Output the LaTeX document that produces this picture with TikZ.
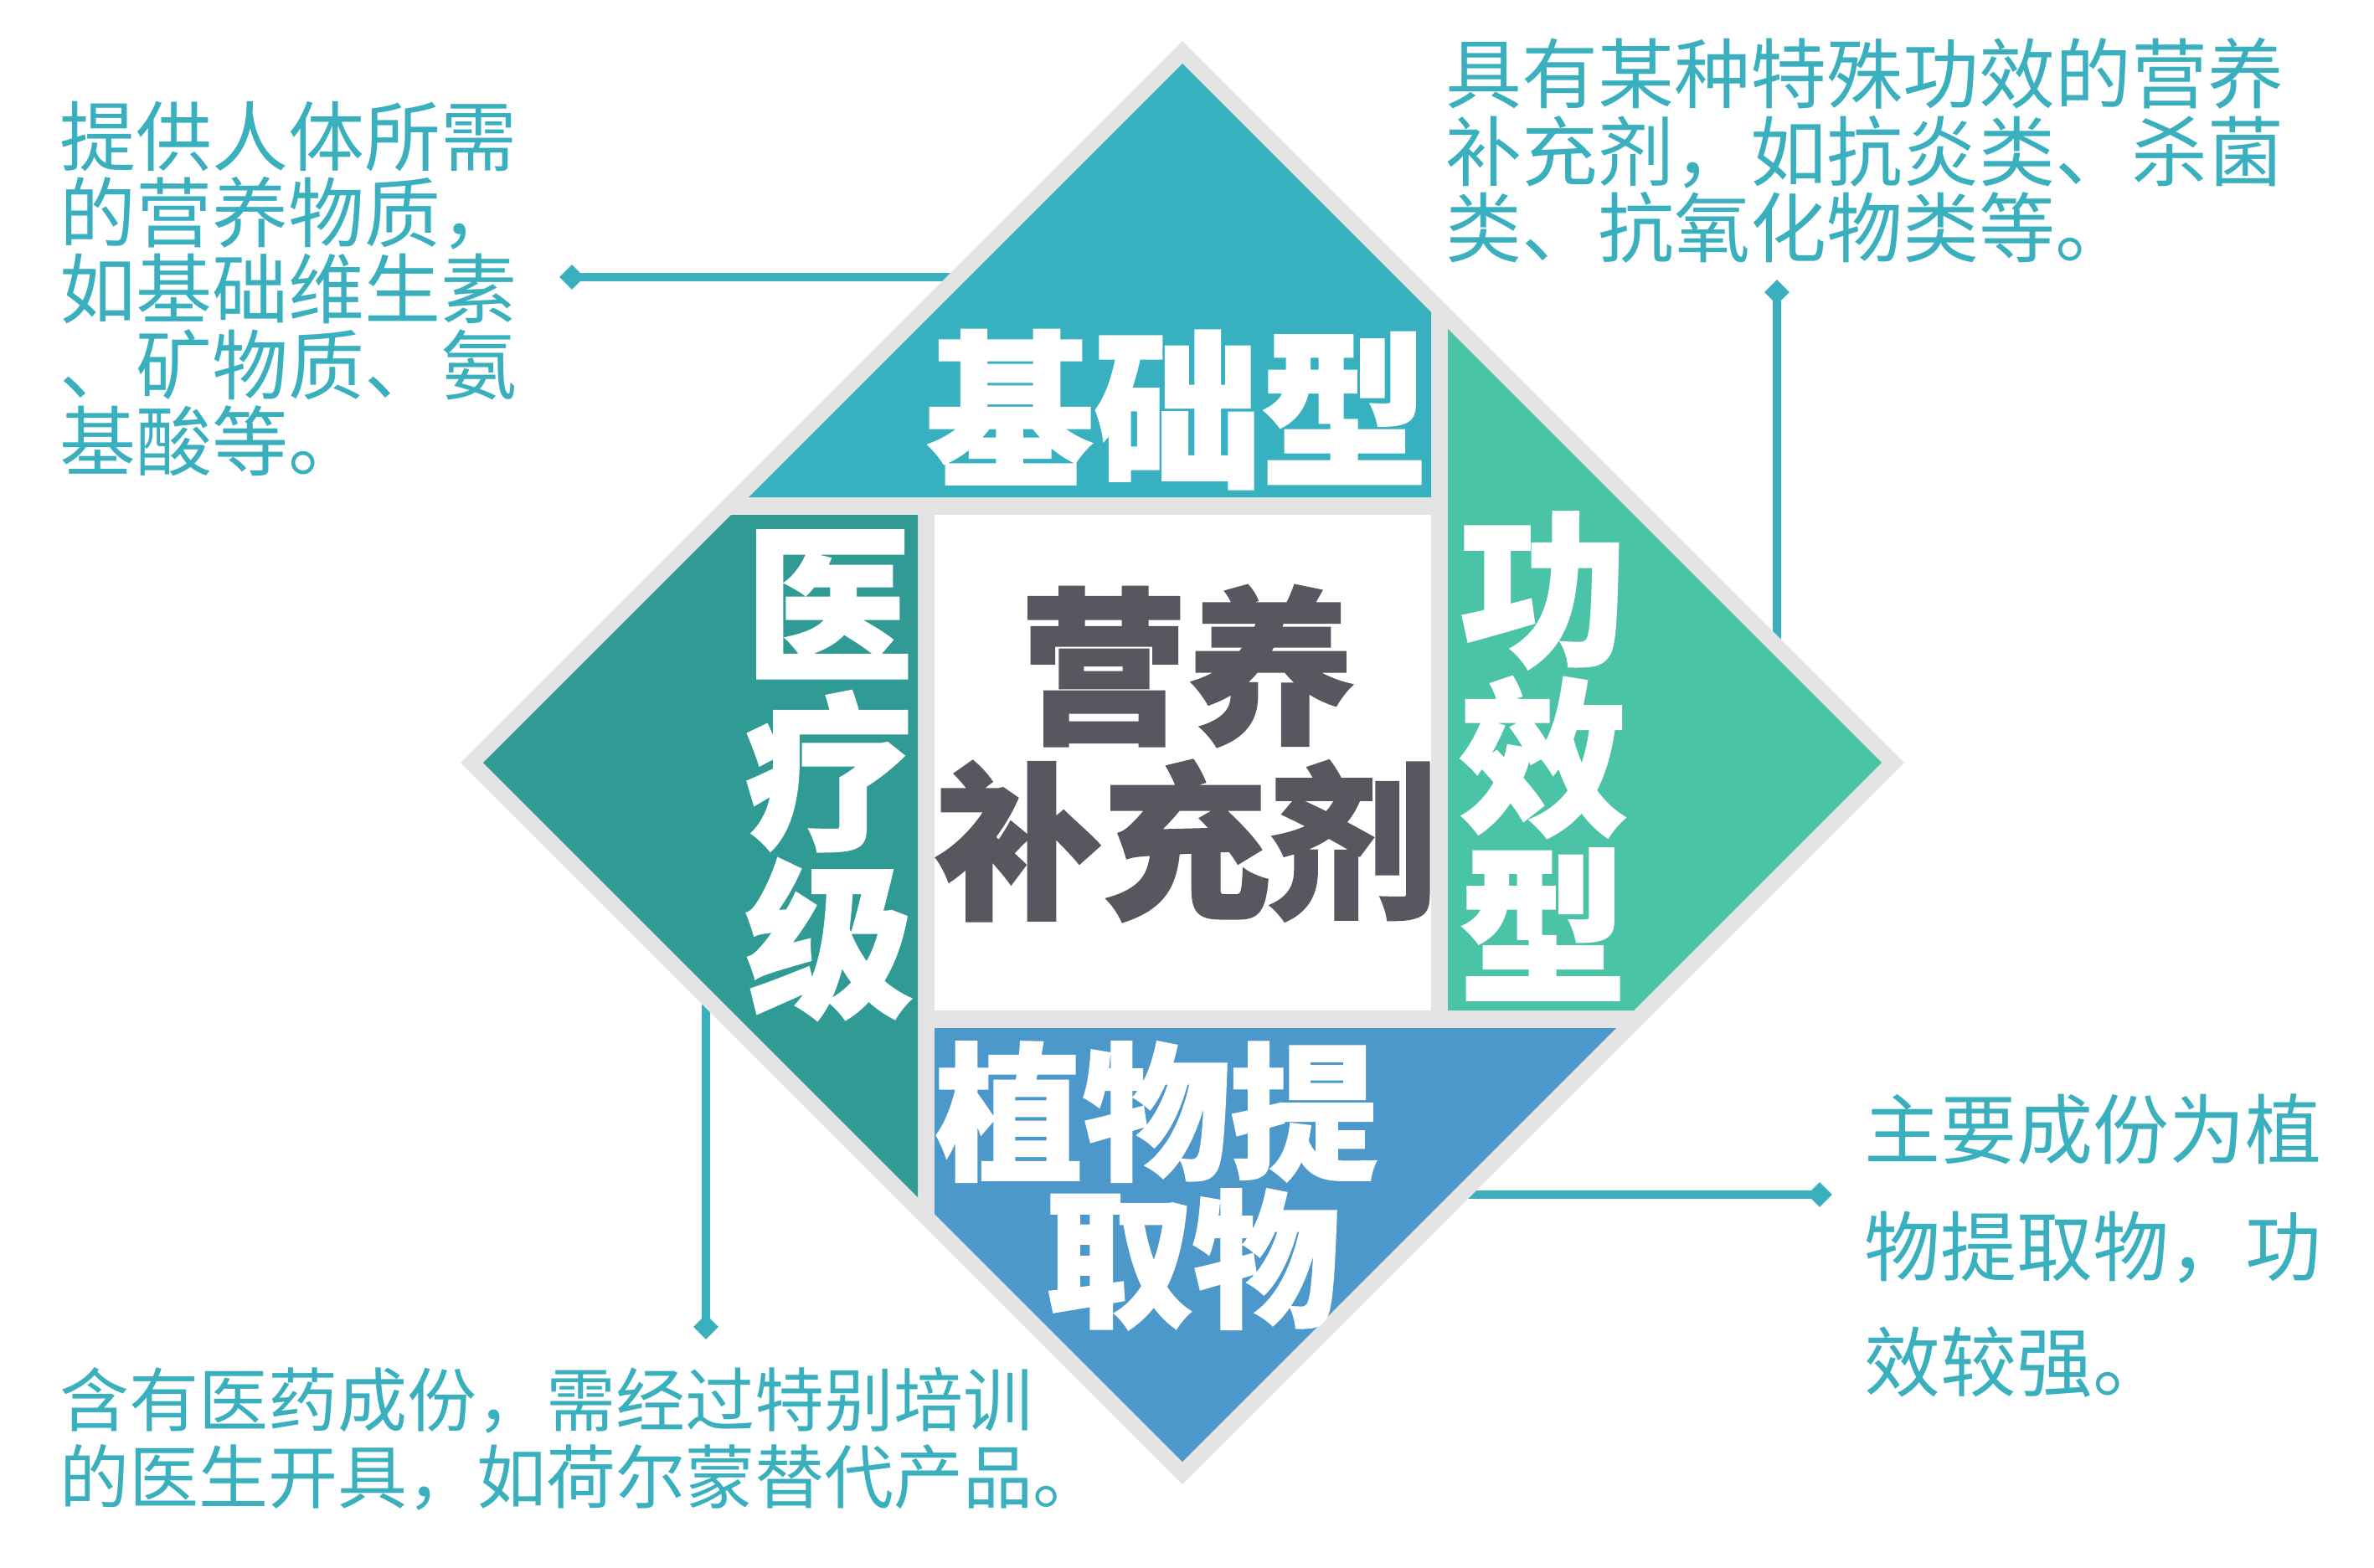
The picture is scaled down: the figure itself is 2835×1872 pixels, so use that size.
\documentclass[tikz,border=0pt]{standalone}
\usepackage{fontspec}
\newfontfamily\cjk{Noto Sans CJK SC}
\newfontfamily\cjkheavy{Noto Sans CJK SC}[BoldFeatures={FakeBold=1.5}]
\usetikzlibrary{shapes.geometric}
\definecolor{cTop}{HTML}{37B0C0}
\definecolor{cLeft}{HTML}{2F9B94}
\definecolor{cGreen}{HTML}{4BC3A7}
\definecolor{cBlue}{HTML}{4C98CB}
\definecolor{cGray}{HTML}{E4E4E4}
\definecolor{cText}{HTML}{3AB0BF}
\definecolor{cDark}{HTML}{56575F}
\tikzset{
  desc/.style={text=cText, font=\cjk\fontsize{91}{91}\selectfont, anchor=base west, inner sep=0pt},
  descsm/.style={desc, font=\cjk\fontsize{83}{83}\selectfont},
  biglabel/.style={text=white, font=\cjkheavy\bfseries\fontsize{200}{201}\selectfont, inner sep=0pt, align=center},
  midlabel/.style={biglabel, font=\cjkheavy\bfseries\fontsize{176}{176}\selectfont},
  corelabel/.style={biglabel, text=cDark},
  marker/.style={diamond, fill=cText, draw=none, inner sep=0pt, minimum width=30pt, minimum height=30pt},
  conn/.style={draw=cText, line width=10pt}
}
\begin{document}
\begin{tikzpicture}[x=1pt,y=-1pt]
\useasboundingbox (0,0) rectangle (2835,1872);
\fill[white] (0,0) rectangle (2835,1872);
% connectors (drawn first, diamond covers their inner ends)
\node[marker] (m1) at (683,331) {};
\coordinate (e1) at (1150,331);
\node[marker] (m2) at (2122,349) {};
\coordinate (e2) at (2122,780);
\node[marker] (m3) at (843,1585) {};
\coordinate (e3) at (843,1185);
\node[marker] (m4) at (2173,1427) {};
\coordinate (e4) at (1740,1427);
\draw[conn] (m1.center) -- (e1);
\draw[conn] (m2.center) -- (e2);
\draw[conn] (m3.center) -- (e3);
\draw[conn] (m4.center) -- (e4);
% outer gray diamond
\fill[cGray] (1412,49) -- (2274,911) -- (1412,1773) -- (550,911) -- cycle;
% pinwheel pieces
\fill[cTop] (1412,76) -- (1709,373) -- (1709,594) -- (894,594) -- cycle;
\fill[cGreen] (1729,393) -- (2247,911) -- (1951,1207) -- (1729,1207) -- cycle;
\fill[cBlue] (1116,1228) -- (1930,1228) -- (1412,1746) -- (1116,1450) -- cycle;
\fill[cLeft] (873,615) -- (1096,615) -- (1096,1430) -- (577,911) -- cycle;
\fill[white] (1116,615) rectangle (1709,1207);
% big labels
\node[biglabel, anchor=base] (jc) at (1406,565) {基础型};
\node[biglabel, anchor=center] (gx) at (1843,903) {功\\效\\型};
\node[biglabel, anchor=center] (yl) at (990,926) {医\\疗\\级};
\node[midlabel, anchor=base] (zw1) at (1381,1395) {植物提};
\node[midlabel, anchor=base] (zw2) at (1424,1571) {取物};
\node[corelabel, anchor=base] (core1) at (1418,872) {营养};
\node[corelabel, anchor=base] (core2) at (1416,1081) {补充剂};
% descriptions
\node[desc] (tl1) at (71,197) {提供人体所需};
\node[desc] (tl2) at (71,288) {的营养物质，};
\node[desc] (tl3) at (71,379) {如基础维生素};
\node[desc] (tl4) at (71,470) {、矿物质、氨};
\node[desc] (tl5) at (71,561) {基酸等。};
\node[desc] (tr1) at (1726,122) {具有某种特殊功效的营养};
\node[desc] (tr2) at (1726,215) {补充剂，如抗炎类、杀菌};
\node[desc] (tr3) at (1726,306) {类、抗氧化物类等。};
\node[desc] (br1) at (2226,1383) {主要成份为植};
\node[desc] (br2) at (2226,1523) {物提取物，功};
\node[desc] (br3) at (2226,1661) {效较强。};
\node[descsm] (bl1) at (71,1703) {含有医药成份，需经过特别培训};
\node[descsm] (bl2) at (71,1795) {的医生开具，如荷尔蒙替代产品。};
\end{tikzpicture}
\end{document}
